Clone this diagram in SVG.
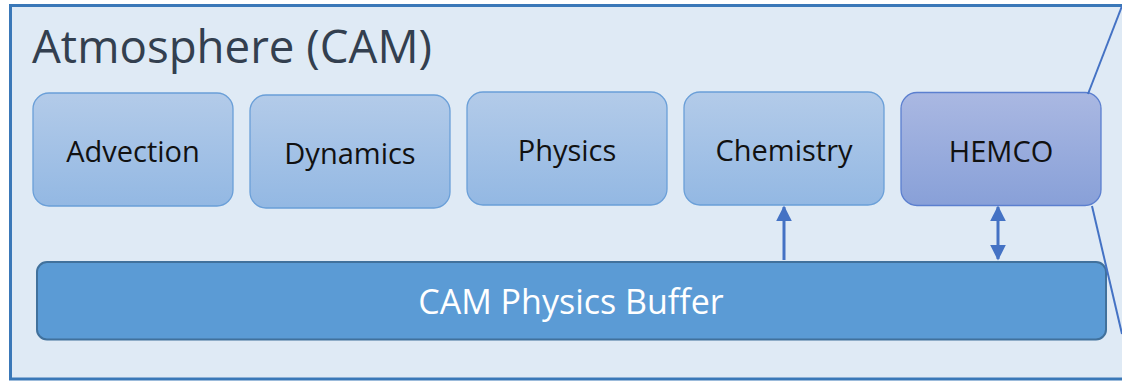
<svg xmlns="http://www.w3.org/2000/svg" width="1122" height="382" viewBox="0 0 1122 382">
<defs>
<linearGradient id="gBlue" x1="0" y1="0" x2="0" y2="1">
<stop offset="0" stop-color="#b3cbe9"/>
<stop offset="1" stop-color="#93b8e3"/>
</linearGradient>
<linearGradient id="gPurple" x1="0" y1="0" x2="0" y2="1">
<stop offset="0" stop-color="#aab8e2"/>
<stop offset="1" stop-color="#88a0d8"/>
</linearGradient>
<marker id="ah" viewBox="0 0 10 10" refX="9" refY="5" markerWidth="5.3" markerHeight="5.3" orient="auto-start-reverse" markerUnits="strokeWidth">
<path d="M0,0 L10,5 L0,10 Z" fill="#4472c4"/>
</marker>
</defs>
<style>
.box{fill:url(#gBlue);stroke:#6a9fd8;stroke-width:1.3}
.hem{fill:url(#gPurple);stroke:#5b7fcf;stroke-width:1.3}
.lbl{font-family:"Open Sans","Noto Sans","Liberation Sans",sans-serif;font-size:29px;fill:#111;text-anchor:middle}
.conn{stroke:#4472c4;stroke-width:3;fill:none}
.zoomline{stroke:#4472c4;stroke-width:2;fill:none}
</style>
<rect x="0" y="0" width="1122" height="382" fill="#ffffff"/>
<g id="frame">
<rect x="10.5" y="5.5" width="1130" height="373.5" fill="#dfeaf5" stroke="#3a78b8" stroke-width="3"/>
<text x="32" y="63" font-family="'Open Sans','Noto Sans','Liberation Sans',sans-serif" font-size="45" fill="#333f4f" textLength="400" lengthAdjust="spacingAndGlyphs">Atmosphere (CAM)</text>
</g>
<g id="advection">
<rect class="box" x="33" y="93" width="200" height="113" rx="16"/>
<text class="lbl" x="133" y="162">Advection</text>
</g>
<g id="dynamics">
<rect class="box" x="250" y="95" width="200" height="113" rx="16"/>
<text class="lbl" x="350" y="163.5">Dynamics</text>
</g>
<g id="physics">
<rect class="box" x="467" y="92" width="200" height="113" rx="16"/>
<text class="lbl" x="567" y="161">Physics</text>
</g>
<g id="chemistry">
<rect class="box" x="684" y="92" width="200" height="113" rx="16"/>
<text class="lbl" x="784" y="161">Chemistry</text>
</g>
<g id="hemco">
<rect class="hem" x="901" y="92.5" width="200" height="113" rx="16"/>
<text class="lbl" x="1001" y="162">HEMCO</text>
</g>
<g id="buffer">
<rect x="37" y="262" width="1069" height="77.5" rx="10" fill="#5b9bd5" stroke="#41719c" stroke-width="2"/>
<text x="571" y="314" font-family="'Open Sans','Noto Sans','Liberation Sans',sans-serif" font-size="34" fill="#ffffff" text-anchor="middle">CAM Physics Buffer</text>
</g>
<g id="connectors">
<line class="conn" x1="784" y1="260" x2="784" y2="207" marker-end="url(#ah)"/>
<line class="conn" x1="998" y1="207" x2="998" y2="259" marker-start="url(#ah)" marker-end="url(#ah)"/>
<line class="zoomline" x1="1122" y1="6" x2="1088" y2="94"/>
<line class="zoomline" x1="1092" y1="206" x2="1122" y2="334"/>
</g>
</svg>
